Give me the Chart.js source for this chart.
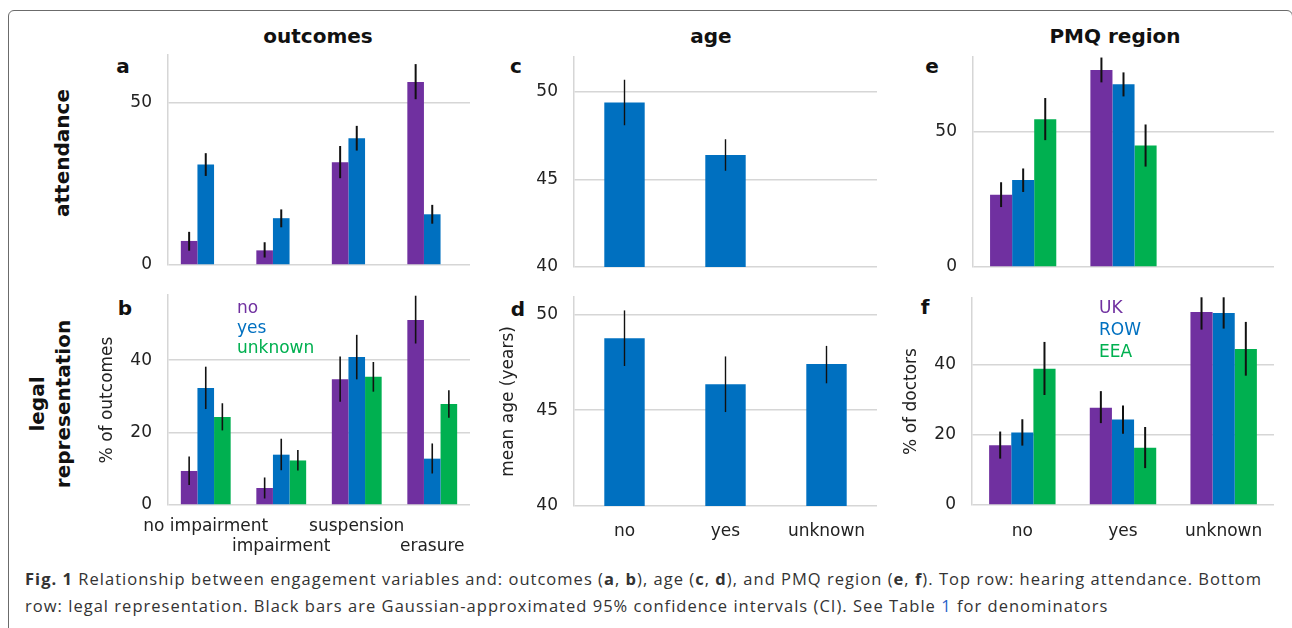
<!DOCTYPE html>
<html>
<head>
<meta charset="utf-8">
<script src="https://cdn.jsdelivr.net/npm/chart.js@4/dist/chart.umd.min.js"></script>
<style>
body { margin: 0; width: 1292px; height: 628px; overflow: hidden; background: #fff; position: relative; font-family: "DejaVu Sans", sans-serif; }
.frame { position: absolute; left: 8px; top: 10px; width: 1285px; height: 700px; border: 1.5px solid #6b6b6b; border-radius: 6px; box-sizing: border-box; }
canvas { position: absolute; }
.t { position: absolute; white-space: nowrap; color: #111; }
.head { font-weight: bold; font-size: 20px; transform: translate(-50%, -50%); }
.rot { font-weight: bold; font-size: 20px; transform: translate(-50%, -50%) rotate(-90deg); text-align: center; line-height: 26px; }
.leg { font-size: 17px; }
.caption { position: absolute; left: 25px; top: 565px; font-family: "Open Sans", sans-serif; font-size: 16.5px; line-height: 27px; color: #333; white-space: nowrap; }
.caption .blue { color: #2a62c9; }
</style>
</head>
<body>
<div class="frame"></div>

<div class="t head" style="left:318px;top:36px">outcomes</div>
<div class="t head" style="left:711px;top:36px">age</div>
<div class="t head" style="left:1115px;top:36px">PMQ region</div>

<div class="t rot" style="left:62px;top:153px">attendance</div>
<div class="t rot" style="left:50px;top:404px">legal<br>representation</div>

<div class="t head" style="left:123px;top:66px">a</div>
<div class="t head" style="left:125px;top:308px">b</div>
<div class="t head" style="left:516px;top:66px">c</div>
<div class="t head" style="left:518px;top:309px">d</div>
<div class="t head" style="left:932px;top:66px">e</div>
<div class="t head" style="left:925px;top:307px">f</div>

<canvas id="chartA" width="383" height="230" style="left:97px;top:45px"></canvas>
<canvas id="chartB" width="383" height="275" style="left:97px;top:285px"></canvas>
<canvas id="chartC" width="389" height="230" style="left:498px;top:45px"></canvas>
<canvas id="chartD" width="389" height="275" style="left:498px;top:285px"></canvas>
<canvas id="chartE" width="383" height="230" style="left:901px;top:45px"></canvas>
<canvas id="chartF" width="383" height="275" style="left:901px;top:285px"></canvas>

<div class="t leg" style="left:237px;top:297px;line-height:20px">
  <div style="color:#7030a0">no</div>
  <div style="color:#0070c0">yes</div>
  <div style="color:#00b050">unknown</div>
</div>
<div class="t leg" style="left:1099px;top:297px;line-height:21.8px">
  <div style="color:#7030a0">UK</div>
  <div style="color:#0070c0">ROW</div>
  <div style="color:#00b050">EEA</div>
</div>

<div class="caption">
  <div id="capLine1"><b>Fig. 1</b> Relationship between engagement variables and: outcomes (<b>a</b>, <b>b</b>), age (<b>c</b>, <b>d</b>), and PMQ region (<b>e</b>, <b>f</b>). Top row: hearing attendance. Bottom</div>
  <div id="capLine2">row: legal representation. Black bars are Gaussian-approximated 95% confidence intervals (CI). See Table <span class="blue">1</span> for denominators</div>
</div>

<script>
// categories
const outcomeLabels = ['no impairment', 'impairment', 'suspension', 'erasure'];
const outcomeTickLabels = [['no impairment'], ['', 'impairment'], ['suspension'], ['', 'erasure']];
const engageLabels = ['no', 'yes', 'unknown'];

// colours
const purple = '#7030a0';
const blue = '#0070c0';
const green = '#00b050';

// a : attendance vs outcome (% of outcomes)
const aNo = [7.4, 4.5, 31.6, 56.3];
const aNoCI = [[4.4, 10.2], [2.3, 7.0], [26.7, 36.6], [51.0, 61.8]];
const aYes = [30.9, 14.4, 39.0, 15.6];
const aYesCI = [[27.4, 34.4], [11.6, 17.1], [35.2, 42.8], [12.7, 18.5]];
const aUnknown = [null, null, null, null];

// b : legal representation vs outcome (% of outcomes)
const bNo = [9.4, 4.7, 34.7, 51.1];
const bNoCI = [[5.5, 13.4], [1.8, 7.6], [28.5, 41.0], [44.6, 57.8]];
const bYes = [32.3, 13.9, 40.9, 12.8];
const bYesCI = [[26.5, 38.2], [9.6, 18.3], [34.7, 47.0], [8.7, 17.0]];
const bUnknown = [24.3, 12.3, 35.4, 27.9];
const bUnknownCI = [[20.6, 28.1], [9.5, 15.2], [31.3, 39.5], [24.1, 31.7]];

// c : attendance vs mean age
const cAge = [49.4, 46.4, null];
const cAgeCI = [[48.1, 50.7], [45.5, 47.3], null];

// d : legal representation vs mean age
const dAge = [48.75, 46.35, 47.4];
const dAgeCI = [[47.3, 50.2], [44.9, 47.8], [46.4, 48.35]];

// e : attendance vs PMQ region (% of doctors)
const eUK = [26.8, 73.0, null];
const eUKCI = [[22.2, 31.4], [68.4, 77.6], null];
const eROW = [32.2, 67.7, null];
const eROWCI = [[27.8, 36.5], [63.2, 72.1], null];
const eEEA = [54.7, 45.0, null];
const eEEACI = [[47.0, 62.6], [37.2, 52.8], null];

// f : legal representation vs PMQ region (% of doctors)
const fUK = [17.0, 27.7, 54.9];
const fUKCI = [[13.2, 20.9], [23.3, 32.4], [49.9, 59.1]];
const fROW = [20.6, 24.3, 54.6];
const fROWCI = [[16.9, 24.4], [20.3, 28.3], [50.2, 59.1]];
const fEEA = [38.8, 16.3, 44.4];
const fEEACI = [[31.3, 46.4], [10.5, 22.2], [36.8, 52.1]];

// y tick labels
const ticksA = [0, 50];
const ticksB = [0, 20, 40];
const ticksAge = [40, 45, 50];
const ticksE = [0, 50];
const ticksF = [0, 20, 40];

// draws the black CI bars on top of each bar
const errorBars = {
    id: 'errorBars',
    afterDatasetsDraw(chart) {
        const ctx = chart.ctx;
        const yScale = chart.scales.y;
        chart.data.datasets.forEach((ds, i) => {
            if (!ds.ci) return;
            chart.getDatasetMeta(i).data.forEach((bar, j) => {
                const ci = ds.ci[j];
                if (!ci) return;
                ctx.save();
                ctx.strokeStyle = '#111';
                ctx.lineWidth = ds.ciWidth || 1.6;
                ctx.beginPath();
                ctx.moveTo(bar.x, yScale.getPixelForValue(ci[0]));
                ctx.lineTo(bar.x, yScale.getPixelForValue(ci[1]));
                ctx.stroke();
                ctx.restore();
            });
        });
    }
};

const tickFont = { family: "'DejaVu Sans', sans-serif", size: 17, lineHeight: 1.2 };

function makeChart(id, labels, datasets, yMin, yMax, yTicks, o) {
    return new Chart(document.getElementById(id), {
        type: 'bar',
        data: { labels: labels, datasets: datasets },
        options: {
            responsive: false,
            animation: false,
            events: [],
            layout: { padding: o.pad },
            plugins: { legend: { display: false }, tooltip: { enabled: false } },
            datasets: { bar: { categoryPercentage: o.cat, barPercentage: 1, borderWidth: 0 } },
            scales: {
                x: {
                    grid: { display: false },
                    border: { display: false },
                    ticks: {
                        display: o.xTicks,
                        autoSkip: false, maxRotation: 0, minRotation: 0,
                        padding: o.xPad || 0,
                        color: '#222', font: tickFont
                    },
                    afterFit: s => { s.height = o.xH; s.paddingLeft = 0; s.paddingRight = 0; }
                },
                y: {
                    min: yMin, max: yMax,
                    afterBuildTicks: s => { s.ticks = yTicks.map(v => ({ value: v })); },
                    grid: { color: '#d6d6d6', lineWidth: 1.5, drawTicks: false },
                    border: { color: '#d6d6d6', width: 1.5 },
                    ticks: { padding: 16, color: '#222', font: tickFont },
                    title: {
                        display: !!o.yTitle, text: o.yTitle || '',
                        padding: 0, color: '#222', font: tickFont
                    },
                    afterFit: s => { s.width = o.yW; s.paddingTop = 0; s.paddingBottom = 0; }
                }
            }
        },
        plugins: [errorBars]
    });
}

makeChart('chartA', outcomeLabels, [
    { data: aNo, backgroundColor: purple, ci: aNoCI, ciWidth: 2 },
    { data: aYes, backgroundColor: blue, ci: aYesCI, ciWidth: 2 },
    { data: aUnknown, backgroundColor: green }
], 0, 64.6, ticksA, { pad: { top: 10, right: 10, bottom: 10, left: 0 }, cat: 0.66, xTicks: false, xH: 0, yW: 71 });

makeChart('chartB', outcomeTickLabels, [
    { data: bNo, backgroundColor: purple, ci: bNoCI },
    { data: bYes, backgroundColor: blue, ci: bYesCI },
    { data: bUnknown, backgroundColor: green, ci: bUnknownCI }
], 0, 58, ticksB, { pad: { top: 10, right: 10, bottom: 0, left: 0 }, cat: 0.66, xTicks: true, xPad: 3, xH: 55, yW: 71, yTitle: '% of outcomes' });

makeChart('chartC', engageLabels, [
    { data: cAge, backgroundColor: blue, ci: cAgeCI, ciWidth: 1.4 }
], 40, 52, ticksAge, { pad: { top: 12, right: 10, bottom: 8, left: 0 }, cat: 0.4, xTicks: false, xH: 0, yW: 76 });

makeChart('chartD', engageLabels, [
    { data: dAge, backgroundColor: blue, ci: dAgeCI, ciWidth: 1.4 }
], 40, 50.9, ticksAge, { pad: { top: 12, right: 10, bottom: 0, left: 0 }, cat: 0.4, xTicks: true, xPad: 7, xH: 54, yW: 76, yTitle: 'mean age (years)' });

makeChart('chartE', engageLabels, [
    { data: eUK, backgroundColor: purple, ci: eUKCI, ciWidth: 2 },
    { data: eROW, backgroundColor: blue, ci: eROWCI, ciWidth: 2 },
    { data: eEEA, backgroundColor: green, ci: eEEACI, ciWidth: 2 }
], 0, 77.8, ticksE, { pad: { top: 12, right: 10, bottom: 8, left: 0 }, cat: 0.66, xTicks: false, xH: 0, yW: 72 });

makeChart('chartF', engageLabels, [
    { data: fUK, backgroundColor: purple, ci: fUKCI, ciWidth: 2 },
    { data: fROW, backgroundColor: blue, ci: fROWCI, ciWidth: 2 },
    { data: fEEA, backgroundColor: green, ci: fEEACI, ciWidth: 2 }
], 0, 58.9, ticksF, { pad: { top: 13, right: 10, bottom: 0, left: 0 }, cat: 0.66, xTicks: true, xPad: 8, xH: 55, yW: 71, yTitle: '% of doctors' });

// stretch the caption so the first line ends where the original does
const line1 = document.getElementById('capLine1');
const line2 = document.getElementById('capLine2');
line1.style.display = 'inline-block';
const w = line1.getBoundingClientRect().width;
const ls = (1237 - w) / line1.textContent.trim().length;
line1.style.letterSpacing = ls + 'px';
line2.style.letterSpacing = ls + 'px';
line1.style.display = 'block';
</script>
</body>
</html>
